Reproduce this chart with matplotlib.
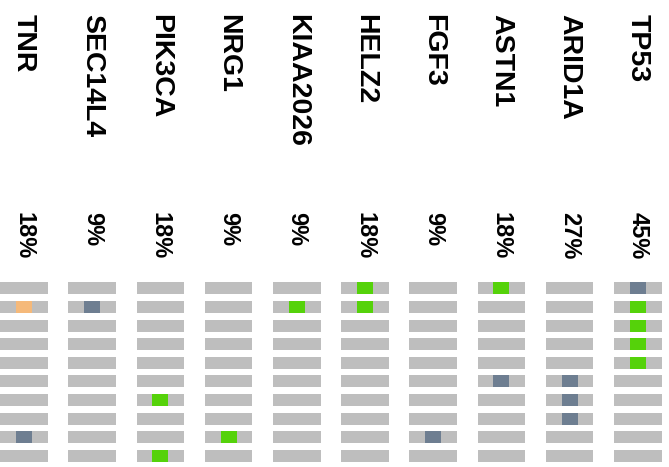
import matplotlib.pyplot as plt

# genes in column order, left to right
genes = ['TNR', 'SEC14L4', 'PIK3CA', 'NRG1', 'KIAA2026',
         'HELZ2', 'FGF3', 'ASTN1', 'ARID1A', 'TP53']
n_samples = 11

# altered samples per gene (row index) and alteration class
tnr = [(1, 'nonsense'), (8, 'cnv')]
sec14l4 = [(1, 'cnv')]
pik3ca = [(6, 'missense'), (9, 'missense')]
nrg1 = [(8, 'missense')]
kiaa2026 = [(1, 'missense')]
helz2 = [(0, 'missense'), (1, 'missense')]
fgf3 = [(8, 'cnv')]
astn1 = [(0, 'missense'), (5, 'cnv')]
arid1a = [(5, 'cnv'), (6, 'cnv'), (7, 'cnv')]
tp53 = [(0, 'cnv'), (1, 'missense'), (2, 'missense'), (3, 'missense'), (4, 'missense')]

alterations = [tnr, sec14l4, pik3ca, nrg1, kiaa2026, helz2, fgf3, astn1, arid1a, tp53]

colors = {'missense': '#55D20A', 'cnv': '#6E7E91', 'nonsense': '#F5B97A'}
bg_color = '#BEBEBE'

bar_w = 0.696
bar_h = 0.645
cell_w = 0.235

fig = plt.figure(figsize=(6.69, 4.67), dpi=100)
ax = fig.add_axes([0, 0, 1, 1])

for col, (gene, alts) in enumerate(zip(genes, alterations)):
    # background bar for every sample
    for row in range(n_samples):
        ax.barh(row, bar_w, left=col - bar_w / 2, height=bar_h,
                color=bg_color, linewidth=0)
    for row, kind in alts:
        ax.barh(row, cell_w, left=col - cell_w / 2, height=bar_h,
                color=colors[kind], linewidth=0)
    pct = round(100 * len(alts) / n_samples)
    ax.text(col, -14.72, gene, rotation=-90, ha='center', va='top',
            fontsize=20.5, fontweight='bold', family='Liberation Sans')
    ax.text(col, -4.12, f'{pct}%', rotation=-90, ha='center', va='top',
            fontsize=17, fontweight='bold', family='Liberation Sans')

ax.set_xlim(-0.352, 9.457)
ax.set_ylim(9.59, -15.47)
ax.axis('off')

fig.savefig('out.png', dpi=100)
